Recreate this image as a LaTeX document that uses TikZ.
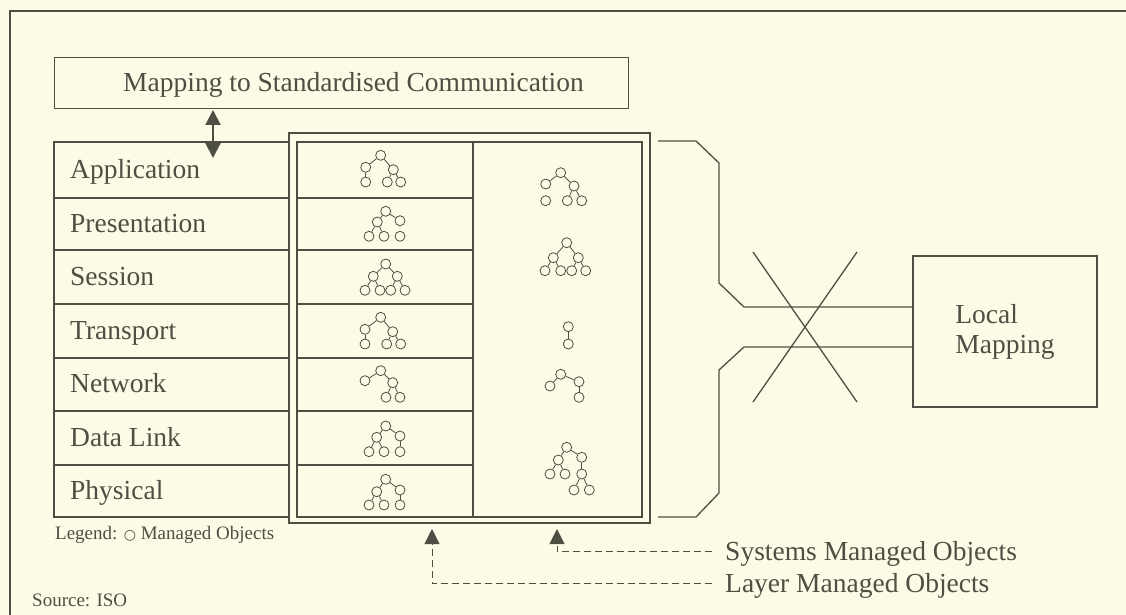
\documentclass[tikz,border=0pt]{standalone}
\usepackage{fontspec}
\setmainfont{Liberation Serif}
\newfontfamily\symfont{DejaVu Sans}
\usetikzlibrary{arrows.meta}
\definecolor{paper}{HTML}{FDFBE6}
\definecolor{ink}{HTML}{4E4E43}

% managed object (circle) and containment edge
\newcommand{\mobjat}[3]{\node[mobj] (#1) at (#2,#3) {};}
\newcommand{\mlink}[2]{\draw[moedge] (#1) -- (#2);}

\begin{document}
\begin{tikzpicture}[x=1pt,y=-1pt,
  boxline/.style={draw=ink, line width=1.3pt},
  thinline/.style={draw=ink, line width=1.1pt},
  bigtext/.style={font=\fontsize{27.5}{30}\selectfont, text=ink, inner sep=0pt},
  smalltext/.style={font=\fontsize{19}{20}\selectfont, text=ink, inner sep=0pt},
  mobj/.style={circle, draw=ink, line width=0.8pt, minimum size=10pt, inner sep=0pt},
  moedge/.style={draw=ink, line width=0.8pt},
  dblarrow/.style={draw=ink, line width=2pt,
    {Triangle[width=15pt,length=15pt]}-{Triangle[width=15pt,length=15pt]}},
  ptr/.style={draw=ink, line width=1pt, dash pattern=on 7pt off 4pt,
    -{Triangle[width=15pt,length=15pt]}}]

\useasboundingbox[fill=paper] (0,0) rectangle (1126,615);

% page frame
\draw[boxline] (10,615) -- (10,11) -- (1126,11);

% standardised communication mapping
\node[boxline, minimum width=574pt, minimum height=51pt, inner sep=0pt,
      anchor=north west] (stdmap) at (54,57) {};
\node[bigtext, anchor=base west] (stdmaptext) at (123,92)
  {Mapping to Standardised Communication};

% OSI layer stack
\draw[boxline] (54,142) rectangle (289,517);
\foreach \yy in {198,250,304,358,411,465}
  \draw[thinline] (54,\yy) -- (289,\yy);
\node[bigtext, anchor=base west] (lapp) at (70,178) {Application};
\node[bigtext, anchor=base west] (lpre) at (70,232) {Presentation};
\node[bigtext, anchor=base west] (lses) at (70,285) {Session};
\node[bigtext, anchor=base west] (ltra) at (70,339) {Transport};
\node[bigtext, anchor=base west] (lnet) at (70,392.5) {Network};
\node[bigtext, anchor=base west] (ldl)  at (70,446) {Data Link};
\node[bigtext, anchor=base west] (lphy) at (70,499) {Physical};

% double arrow between mapping and the stack
\coordinate (dtop) at (213,110);
\coordinate (dbot) at (213,158);
\draw[dblarrow] (dtop) -- (dbot);

% management information base (double frame)
\draw[boxline] (289,133) rectangle (650,523);
\draw[boxline] (297,142) rectangle (642,517);
\draw[thinline] (473,142) -- (473,517);
\foreach \yy in {198,250,304,358,411,465}
  \draw[thinline] (297,\yy) -- (473,\yy);

% layer managed objects
\mobjat{l1a}{380.7}{155.3}\mobjat{l1b}{365.7}{167.3}\mobjat{l1c}{393.3}{169.7}
\mobjat{l1d}{365.7}{182}\mobjat{l1e}{387.3}{182}\mobjat{l1f}{400.7}{182}
\mlink{l1a}{l1b}\mlink{l1a}{l1c}\mlink{l1b}{l1d}\mlink{l1c}{l1e}\mlink{l1c}{l1f}

\mobjat{l2a}{385.7}{211.3}\mobjat{l2b}{377.3}{222}\mobjat{l2c}{400}{220.7}
\mobjat{l2d}{369}{236.3}\mobjat{l2e}{384}{236.3}\mobjat{l2f}{400}{236.3}
\mlink{l2a}{l2b}\mlink{l2a}{l2c}\mlink{l2b}{l2d}\mlink{l2b}{l2e}

\mobjat{l3a}{385.7}{264}\mobjat{l3b}{373.3}{276.3}\mobjat{l3c}{397.3}{276.3}
\mobjat{l3d}{365}{290.3}\mobjat{l3e}{380}{290.3}\mobjat{l3f}{390.7}{290.3}
\mobjat{l3g}{405}{290.3}
\mlink{l3a}{l3b}\mlink{l3a}{l3c}\mlink{l3b}{l3d}\mlink{l3b}{l3e}
\mlink{l3c}{l3f}\mlink{l3c}{l3g}

\mobjat{l4a}{380.7}{317.3}\mobjat{l4b}{365}{329.3}\mobjat{l4c}{392.7}{331.7}
\mobjat{l4d}{365}{344}\mobjat{l4e}{386.7}{344}\mobjat{l4f}{400.7}{344}
\mlink{l4a}{l4b}\mlink{l4a}{l4c}\mlink{l4b}{l4d}\mlink{l4c}{l4e}\mlink{l4c}{l4f}

\mobjat{l5a}{380.7}{370.7}\mobjat{l5b}{365}{380.7}\mobjat{l5c}{392.7}{382.7}
\mobjat{l5e}{386}{397.3}\mobjat{l5f}{400}{397.3}
\mlink{l5a}{l5b}\mlink{l5a}{l5c}\mlink{l5c}{l5e}\mlink{l5c}{l5f}

\mobjat{l6a}{385.7}{426}\mobjat{l6b}{376.7}{437.3}\mobjat{l6c}{400}{436}
\mobjat{l6d}{369}{451.7}\mobjat{l6e}{384}{451.7}\mobjat{l6f}{400}{451.7}
\mlink{l6a}{l6b}\mlink{l6a}{l6c}\mlink{l6b}{l6d}\mlink{l6b}{l6e}\mlink{l6c}{l6f}

\mobjat{l7a}{385.7}{479.3}\mobjat{l7b}{376.7}{491.7}\mobjat{l7c}{400}{490}
\mobjat{l7d}{369}{505}\mobjat{l7e}{384}{505}\mobjat{l7f}{400}{505}
\mlink{l7a}{l7b}\mlink{l7a}{l7c}\mlink{l7b}{l7d}\mlink{l7b}{l7e}\mlink{l7c}{l7f}

% systems managed objects
\mobjat{s1a}{560.7}{172.7}\mobjat{s1b}{545.7}{184}\mobjat{s1c}{574}{186}
\mobjat{s1d}{545.7}{200.7}\mobjat{s1e}{567.3}{200.7}\mobjat{s1f}{581.7}{200.7}
\mlink{s1a}{s1b}\mlink{s1a}{s1c}\mlink{s1c}{s1e}\mlink{s1c}{s1f}

\mobjat{s2a}{566.7}{242.7}\mobjat{s2b}{553.3}{257.7}\mobjat{s2c}{578.3}{257.7}
\mobjat{s2d}{545}{270.7}\mobjat{s2e}{560.7}{270.7}\mobjat{s2f}{571.7}{270.7}
\mobjat{s2g}{585.7}{270.7}
\mlink{s2a}{s2b}\mlink{s2a}{s2c}\mlink{s2b}{s2d}\mlink{s2b}{s2e}
\mlink{s2c}{s2f}\mlink{s2c}{s2g}

\mobjat{s3a}{568.3}{326.7}\mobjat{s3b}{568.3}{344}
\mlink{s3a}{s3b}

\mobjat{s4a}{560.7}{374.3}\mobjat{s4b}{550}{386}\mobjat{s4c}{579}{381.7}
\mobjat{s4d}{579}{397.3}
\mlink{s4a}{s4b}\mlink{s4a}{s4c}\mlink{s4c}{s4d}

\mobjat{s5a}{566.7}{447.3}\mobjat{s5b}{558.3}{460}\mobjat{s5c}{581.7}{457.3}
\mobjat{s5d}{550}{474}\mobjat{s5e}{565}{474}\mobjat{s5f}{581.7}{474}
\mobjat{s5g}{574}{490}\mobjat{s5h}{589.3}{490}
\mlink{s5a}{s5b}\mlink{s5a}{s5c}\mlink{s5b}{s5d}\mlink{s5b}{s5e}
\mlink{s5c}{s5f}\mlink{s5f}{s5g}\mlink{s5f}{s5h}

% local mapping
\node[boxline, bigtext, minimum width=184pt, minimum height=151pt,
      align=left] (lmap) at (1005,331.5) {Local\\Mapping};

% bracket joining the management information to local mapping
\coordinate (bupper) at (744,307);
\coordinate (blower) at (744,347);
\draw[boxline] (658,141) -- (696,141) -- (719,163) -- (719,283)
  -- (bupper) -- (bupper -| lmap.west);
\draw[boxline] (blower -| lmap.west) -- (blower) -- (719,370)
  -- (719,493) -- (696,517) -- (658,517);
\draw[boxline] (753,252) -- (857,402);
\draw[boxline] (857,252) -- (753,402);

% legend and source
\node[smalltext, anchor=base west] (legend) at (55,539)
  {Legend: {\symfont\fontsize{14}{14}\selectfont ○} Managed Objects};
\node[smalltext, anchor=base west] (source) at (32,606) {Source: ISO};

% pointers to the two kinds of managed objects
\node[bigtext, anchor=base west] (sysmo) at (725,560) {Systems Managed Objects};
\node[bigtext, anchor=base west] (laymo) at (725,592) {Layer Managed Objects};
\coordinate (systip) at (557,529);
\coordinate (laytip) at (432,529);
\draw[ptr] ([xshift=-13pt,yshift=1.5pt]sysmo.west) -| (systip);
\draw[ptr] ([xshift=-13pt,yshift=1.5pt]laymo.west) -| (laytip);

\end{tikzpicture}
\end{document}
